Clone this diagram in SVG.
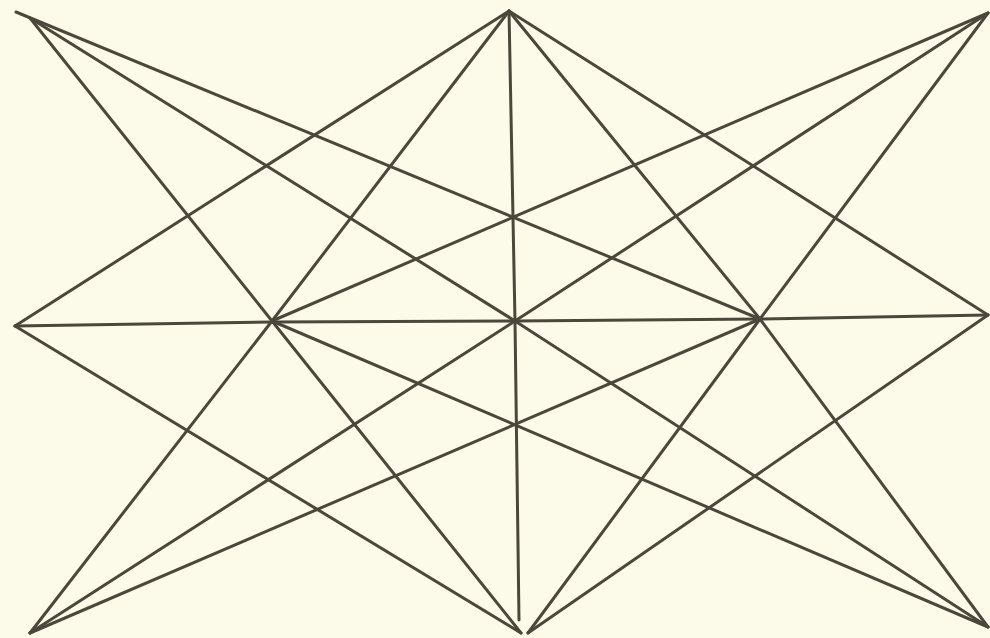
<svg xmlns="http://www.w3.org/2000/svg" width="990" height="638" viewBox="0 0 990 638">
<style>
.l{fill:none;stroke:#4b473a;stroke-width:3;stroke-linecap:round;stroke-linejoin:round}
</style>
<rect width="990" height="638" fill="#fcfbe9"/>
<g id="lines" class="l">
<polyline points="30,18 272,321 521,633"/>
<polyline points="30,18 515,321 988,627"/>
<polyline points="16,12 760,319"/>
<polyline points="509,11 15,326"/>
<polyline points="509,11 272,321 30,633"/>
<polyline points="509,11 515,321 519,620"/>
<polyline points="509,11 988,315"/>
<polyline points="509,11 760,319 988,627"/>
<polyline points="988,13 272,321"/>
<polyline points="988,13 515,321 30,633"/>
<polyline points="988,13 760,319 528,633"/>
<polyline points="15,326 272,322 515,321 760,319 988,315"/>
<polyline points="15,326 521,633"/>
<polyline points="30,633 760,319"/>
<polyline points="272,321 988,627"/>
<polyline points="988,315 528,633"/>
</g>
</svg>
